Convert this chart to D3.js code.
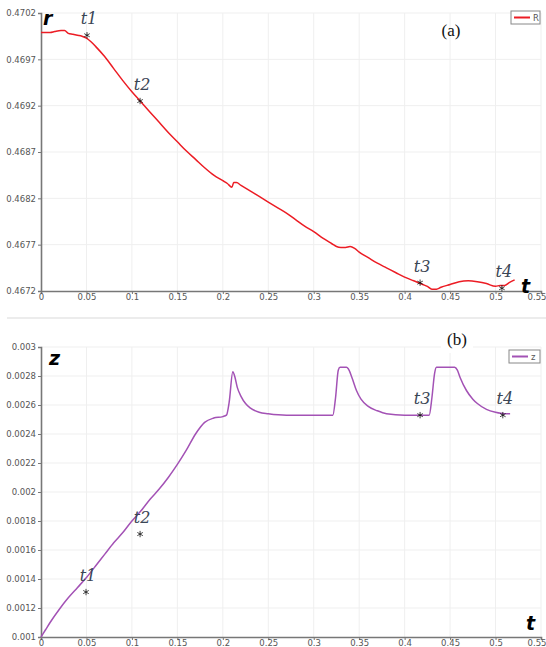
<!DOCTYPE html>
<html>
<head>
<meta charset="utf-8">
<script src="https://cdn.jsdelivr.net/npm/d3@7"></script>
<style>
  body { margin: 0; background: #fff; }
  svg { display: block; }
  .tick text { font-family: "DejaVu Sans", sans-serif; font-size: 8.5px; fill: #555; }
</style>
</head>
<body>
<div class="graph"></div>
<script>
/*---------- DATA ----------*/

//panel (a): radius r over time t
const tR = [0, 0.01, 0.015, 0.022, 0.026, 0.03, 0.035, 0.04, 0.045, 0.05, 0.055, 0.06, 0.07, 0.08, 0.09, 0.10,
    0.11, 0.12, 0.13, 0.14, 0.15, 0.16, 0.17, 0.18, 0.19, 0.20, 0.205, 0.21, 0.212, 0.215, 0.22, 0.23, 0.24,
    0.25, 0.26, 0.27, 0.28, 0.29, 0.30, 0.31, 0.32, 0.325, 0.33, 0.335, 0.34, 0.345, 0.35, 0.36, 0.37, 0.38,
    0.39, 0.40, 0.41, 0.42, 0.425, 0.43, 0.435, 0.44, 0.45, 0.46, 0.47, 0.48, 0.49, 0.50, 0.505, 0.51, 0.515, 0.521];
const rVals = [0.46999, 0.46999, 0.47000, 0.47001, 0.47001, 0.46998, 0.46997, 0.46996, 0.46995, 0.46993, 0.46989,
    0.46984, 0.46973, 0.46960, 0.46947, 0.46935, 0.46924, 0.46913, 0.46902, 0.46891, 0.46881, 0.46871, 0.46862,
    0.46853, 0.46845, 0.46839, 0.46836, 0.46832, 0.46837, 0.46837, 0.46834, 0.46828, 0.46822, 0.46816, 0.46810,
    0.46804, 0.46797, 0.46790, 0.46784, 0.46777, 0.46771, 0.46768, 0.46767, 0.46767, 0.46768, 0.46766, 0.46762,
    0.46756, 0.46750, 0.46745, 0.46740, 0.46735, 0.46731, 0.46727, 0.46725, 0.46722, 0.46722, 0.46724, 0.46727,
    0.46730, 0.46731, 0.46730, 0.46728, 0.46725, 0.46726, 0.46726, 0.46729, 0.46732];

//panel (b): z over time t
const tZ = [0, 0.005, 0.01, 0.02, 0.03, 0.04, 0.05, 0.06, 0.07, 0.08, 0.09, 0.10, 0.11, 0.12, 0.13, 0.14, 0.15,
    0.16, 0.17, 0.18, 0.19, 0.20, 0.204, 0.207, 0.211, 0.213, 0.216, 0.22, 0.225, 0.23, 0.24, 0.25, 0.27, 0.30,
    0.321, 0.324, 0.327, 0.329, 0.336, 0.338, 0.342, 0.347, 0.352, 0.36, 0.37, 0.38, 0.40, 0.427, 0.430, 0.433,
    0.435, 0.455, 0.458, 0.461, 0.468, 0.475, 0.48, 0.49, 0.50, 0.51, 0.516];
const zVals = [0.00100, 0.00105, 0.00110, 0.00119, 0.00127, 0.00134, 0.00141, 0.00149, 0.00157, 0.00165, 0.00172,
    0.00180, 0.00187, 0.00195, 0.00202, 0.00210, 0.00219, 0.00229, 0.00240, 0.00248, 0.00251, 0.00252, 0.00253,
    0.00262, 0.00283, 0.00280, 0.00272, 0.00266, 0.00261, 0.00258, 0.00255, 0.00254, 0.00253, 0.00253, 0.00253,
    0.00265, 0.00284, 0.00286, 0.00286, 0.00285, 0.00279, 0.00270, 0.00264, 0.00259, 0.00256, 0.00254, 0.00253,
    0.00253, 0.00265, 0.00282, 0.00286, 0.00286, 0.00284, 0.00279, 0.00270, 0.00264, 0.00261, 0.00257, 0.00255,
    0.00254, 0.00254];

//marked instants
const markLabels = ["t1", "t2", "t3", "t4"];
const markTR = [0.0506, 0.109, 0.417, 0.507];
const markR = [0.46996, 0.46925, 0.46729, 0.46723];
const markTZ = [0.0495, 0.109, 0.417, 0.508];
const markZ = [0.00131, 0.00171, 0.00253, 0.00253];

//tick values
const xTicks = [0, 0.05, 0.1, 0.15, 0.2, 0.25, 0.3, 0.35, 0.4, 0.45, 0.5, 0.55];
const rTicks = [0.4672, 0.4677, 0.4682, 0.4687, 0.4692, 0.4697, 0.4702];
const zTicks = [0.001, 0.0012, 0.0014, 0.0016, 0.0018, 0.002, 0.0022, 0.0024, 0.0026, 0.0028, 0.003];

/*---------- D3 STUFF ----------*/

const SIZE = {X: 546, Y: 647};
const PLOT = {LEFT: 41, RIGHT: 541};
const PANEL_A = {TOP: 13, BOTTOM: 291};
const PANEL_B = {TOP: 347, BOTTOM: 637};

const svg = d3.select(".graph").append("svg")
    .attr("width", SIZE.X)
    .attr("height", SIZE.Y);

//light separator between the panels
svg.append("rect")
    .attr("x", 7).attr("y", 317)
    .attr("width", SIZE.X - 7).attr("height", 2)
    .attr("fill", "#ececec");

var x = d3.scaleLinear().domain([0, 0.55]).range([PLOT.LEFT, PLOT.RIGHT]);
var yR = d3.scaleLinear().domain([0.4672, 0.4702]).range([PANEL_A.BOTTOM, PANEL_A.TOP]);
var yZ = d3.scaleLinear().domain([0.001, 0.003]).range([PANEL_B.BOTTOM, PANEL_B.TOP]);

const star = d3.symbol(d3.symbolAsterisk, 28);

function drawPanel(opt) {
    const g = svg.append("g");

    //grid
    g.append("g").selectAll("line").data(xTicks.slice(1)).join("line")
        .attr("x1", d => x(d)).attr("x2", d => x(d))
        .attr("y1", opt.y.range()[0]).attr("y2", opt.y.range()[1])
        .attr("stroke", "#efefef");
    g.append("g").selectAll("line").data(opt.yTicks.slice(1)).join("line")
        .attr("x1", PLOT.LEFT).attr("x2", PLOT.RIGHT)
        .attr("y1", d => opt.y(d)).attr("y2", d => opt.y(d))
        .attr("stroke", "#efefef");

    //panel tag with white background
    g.append("rect")
        .attr("x", opt.tag.x - 16).attr("y", opt.tag.y - 14)
        .attr("width", 32).attr("height", 22)
        .attr("fill", opt.tag.bg ? "#fff" : "none");
    g.append("text")
        .attr("x", opt.tag.x).attr("y", opt.tag.y)
        .attr("text-anchor", "middle")
        .attr("font-family", "Liberation Serif, serif")
        .attr("font-size", 17)
        .attr("fill", "#111")
        .text(opt.tag.text);

    //axes
    const xAxis = g.append("g")
        .attr("transform", `translate(0, ${opt.y.range()[0]})`)
        .call(d3.axisBottom(x).tickValues(xTicks).tickSize(3).tickPadding(1).tickFormat(d3.format("~g")));
    const yAxis = g.append("g")
        .attr("transform", `translate(${PLOT.LEFT}, 0)`)
        .call(d3.axisLeft(opt.y).tickValues(opt.yTicks).tickSize(3).tickPadding(2).tickFormat(d3.format("~g")));
    [xAxis, yAxis].forEach(a => {
        a.select(".domain").attr("stroke", "#777").attr("stroke-width", 1.6);
        a.selectAll(".tick line").attr("stroke", "#777");
    });
    xAxis.selectAll(".tick text").attr("dy", "0.6em");
    //last label sits against the page edge
    xAxis.selectAll(".tick text").filter(d => d === 0.55)
        .attr("text-anchor", "end").attr("x", 5);

    //curve
    const line = d3.line()
        .x(d => x(d[0]))
        .y(d => opt.y(d[1]))
        .curve(d3.curveMonotoneX);
    g.append("path")
        .attr("d", line(d3.zip(opt.t, opt.v)))
        .attr("fill", "none")
        .attr("stroke", opt.color)
        .attr("stroke-width", 1.5);

    //marks
    markLabels.forEach((lab, i) => {
        const px = x(opt.markT[i]), py = opt.y(opt.markV[i]);
        g.append("path")
            .attr("d", star)
            .attr("transform", `translate(${px}, ${py})`)
            .attr("fill", "#111")
            .attr("stroke", "#111")
            .attr("stroke-width", 0.8);
        g.append("text")
            .attr("x", px + 2).attr("y", py - 11)
            .attr("text-anchor", "middle")
            .attr("font-family", "DejaVu Serif, serif")
            .attr("font-style", "italic")
            .attr("font-size", 16)
            .attr("fill", "#3b4656")
            .text(lab);
    });

    //axis names
    g.append("text")
        .attr("x", opt.yName.x).attr("y", opt.yName.y)
        .attr("font-family", "DejaVu Sans, sans-serif")
        .attr("font-weight", "bold").attr("font-style", "italic")
        .attr("font-size", 19).attr("fill", "#000")
        .text(opt.yName.text);
    g.append("text")
        .attr("x", opt.tName.x).attr("y", opt.tName.y)
        .attr("font-family", "DejaVu Sans, sans-serif")
        .attr("font-weight", "bold").attr("font-style", "italic")
        .attr("font-size", 19).attr("fill", "#000")
        .text("t");

    //legend
    const lg = g.append("g").attr("transform", `translate(${opt.legend.x}, ${opt.legend.y})`);
    lg.append("rect")
        .attr("width", opt.legend.w).attr("height", 13)
        .attr("fill", "#fff").attr("stroke", "#888");
    lg.append("line")
        .attr("x1", 3).attr("x2", 19).attr("y1", 6.5).attr("y2", 6.5)
        .attr("stroke", opt.color).attr("stroke-width", 2);
    lg.append("text")
        .attr("x", 22).attr("y", 10)
        .attr("font-family", "DejaVu Sans, sans-serif")
        .attr("font-size", 8.5).attr("fill", "#555")
        .text(opt.legend.text);
}

drawPanel({
    y: yR, yTicks: rTicks, t: tR, v: rVals, color: "#ec1c24",
    markT: markTR, markV: markR,
    tag: {x: 451, y: 36, text: "(a)", bg: false},
    yName: {x: 43, y: 25, text: "r"},
    tName: {x: 521, y: 293},
    legend: {x: 511, y: 11, w: 29, text: "R"}
});

drawPanel({
    y: yZ, yTicks: zTicks, t: tZ, v: zVals, color: "#a352b5",
    markT: markTZ, markV: markZ,
    tag: {x: 457, y: 345, text: "(b)", bg: true},
    yName: {x: 49, y: 365, text: "z"},
    tName: {x: 526, y: 630},
    legend: {x: 509, y: 350, w: 31, text: "z"}
});
</script>
</body>
</html>
